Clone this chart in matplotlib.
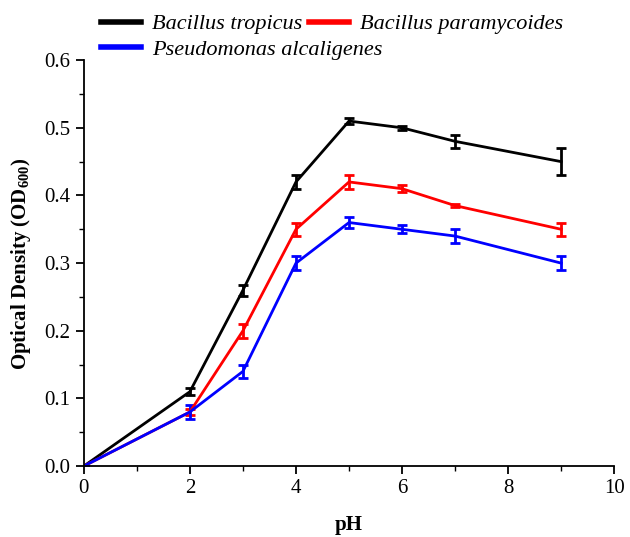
import matplotlib.pyplot as plt
from matplotlib.ticker import MultipleLocator

plt.rcParams['font.family'] = ['Liberation Serif', 'DejaVu Serif']
plt.rcParams['mathtext.fontset'] = 'custom'
plt.rcParams['mathtext.rm'] = 'Liberation Serif'
plt.rcParams['mathtext.bf'] = 'Liberation Serif:bold'

ph = [0, 2, 3, 4, 5, 6, 7, 9]

tropicus = [0, 0.11, 0.26, 0.42, 0.51, 0.50, 0.48, 0.45]
tropicus_err = [0, 0.005, 0.008, 0.01, 0.005, 0.003, 0.01, 0.02]

paramycoides = [0, 0.08, 0.20, 0.35, 0.42, 0.41, 0.385, 0.35]
paramycoides_err = [0, 0.005, 0.01, 0.01, 0.01, 0.005, 0.002, 0.01]

alcaligenes = [0, 0.08, 0.14, 0.30, 0.36, 0.35, 0.34, 0.30]
alcaligenes_err = [0, 0.01, 0.01, 0.01, 0.008, 0.006, 0.01, 0.01]

names = ['Bacillus tropicus', 'Bacillus paramycoides', 'Pseudomonas alcaligenes']
colors = ['black', 'red', 'blue']

fig = plt.figure(figsize=(6.3, 5.37), dpi=100)
ax = fig.add_axes([0.133, 0.132, 0.842, 0.756])

series = [(tropicus, tropicus_err), (paramycoides, paramycoides_err),
          (alcaligenes, alcaligenes_err)]
for (y, e), c, n in zip(series, colors, names):
    ax.errorbar(ph, y, yerr=e, color=c, lw=2, capsize=3.5, capthick=2,
                elinewidth=2, label=n)

ax.set_xlim(0, 10)
ax.set_ylim(0, 0.6)
ax.xaxis.set_major_locator(MultipleLocator(2))
ax.xaxis.set_minor_locator(MultipleLocator(1))
ax.yaxis.set_major_locator(MultipleLocator(0.1))
ax.yaxis.set_minor_locator(MultipleLocator(0.05))
ax.yaxis.set_major_formatter(plt.FormatStrFormatter('%.1f'))

for s in ['top', 'right']:
    ax.spines[s].set_visible(False)
for s in ['left', 'bottom']:
    ax.spines[s].set_linewidth(1.3)
ax.tick_params(which='major', direction='out', length=6, width=1.3, labelsize=15)
ax.tick_params(which='minor', direction='out', length=3.5, width=1.0)

ax.set_xlabel('pH', fontsize=15, fontweight='bold', labelpad=12)
ax.set_ylabel('Optical Density (OD$_{\\mathbf{600}}$)', fontsize=15,
              fontweight='bold', labelpad=8)

# legend: row 1 = tropicus, paramycoides; row 2 = alcaligenes
leg_kw = dict(loc='center left', frameon=False, borderpad=0, borderaxespad=0,
              prop={'style': 'italic', 'size': 16}, handlelength=1.8,
              handletextpad=0.5, columnspacing=0.3)
h = [plt.Line2D([], [], color=c, lw=4) for c in colors]
fig.legend(h[:2], names[:2], ncol=2, bbox_to_anchor=(0.16, 0.955), **leg_kw)
fig.legend(h[2:], names[2:], ncol=1, bbox_to_anchor=(0.16, 0.907), **leg_kw)

fig.savefig('out.png', dpi=100)
